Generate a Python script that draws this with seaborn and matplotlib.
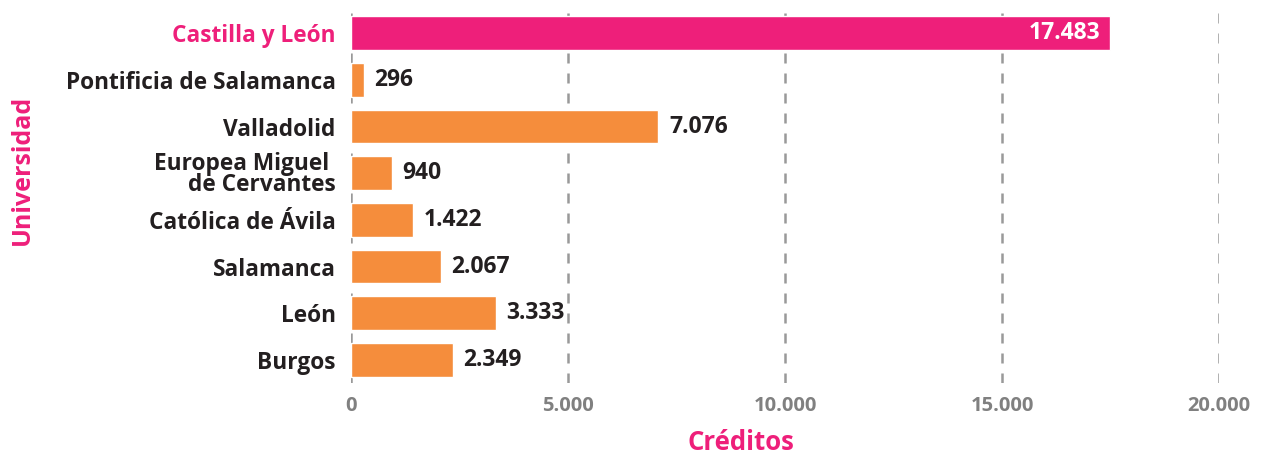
import pandas as pd
import numpy as np
import matplotlib
matplotlib.use('Agg')
import matplotlib.pyplot as plt
import seaborn as sns

# data
universidades = ['Castilla y León', 'Pontificia de Salamanca', 'Valladolid',
                 'Europea Miguel \nde Cervantes', 'Católica de Ávila', 'Salamanca',
                 'León', 'Burgos']
creditos = [17483, 296, 7076, 940, 1422, 2067, 3333, 2349]
xticks = [0, 5000, 10000, 15000, 20000]

pink = '#EE1F7A'
orange = '#F58D3C'
dark = '#231F20'
grey = '#808080'

df = pd.DataFrame({'universidad': universidades, 'creditos': creditos})
colors = [pink] + [orange] * (len(df) - 1)

sns.set_theme(style='white')
plt.rcParams['font.family'] = ['Open Sans', 'DejaVu Sans']
plt.rcParams['font.weight'] = 'bold'

fig = plt.figure(figsize=(12.62, 4.53), dpi=100)
ax = fig.add_axes([0.278, 0.154, 0.688, 0.824])

sns.barplot(data=df, x='creditos', y='universidad', hue='universidad',
            palette=colors, legend=False, width=0.72, saturation=1, ax=ax)

def fmt(v):
    return f'{v:,}'.replace(',', '.')

for i, v in enumerate(creditos):
    if i == 0:
        ax.text(v - 220, i, fmt(v), ha='right', va='center', color='white',
                fontsize=16.5, fontweight='bold')
    else:
        ax.text(v + 250, i, fmt(v), ha='left', va='center', color=dark,
                fontsize=16.5, fontweight='bold')

ax.set_xlim(0, 20000)
ax.set_xticks(xticks)
ax.set_xticklabels([fmt(t) for t in xticks])
ax.tick_params(axis='x', colors=grey, labelsize=14.5, pad=9, length=0)
ax.tick_params(axis='y', labelsize=16.3, pad=11, length=0)
for lab in ax.get_xticklabels():
    lab.set_fontweight('bold')
for i, lab in enumerate(ax.get_yticklabels()):
    lab.set_fontweight('bold')
    lab.set_color(pink if i == 0 else dark)
    lab.set_linespacing(0.8)

ax.grid(axis='x', color='#999999', linestyle=(0, (4, 4)), linewidth=1.8)
ax.grid(axis='y', visible=False)
ax.set_axisbelow(True)
sns.despine(ax=ax, left=True, bottom=True)

ax.set_xlabel('')
ax.set_ylabel('')
fig.text(741 / 1262, 1 - 442 / 453, 'Créditos', color=pink, fontsize=18.5,
         fontweight='bold', ha='center', va='center')
fig.text(22 / 1262, 1 - 170 / 453, 'Universidad', color=pink, fontsize=18,
         fontweight='bold', ha='center', va='center', rotation=90)

fig.savefig('out.png', dpi=100)
